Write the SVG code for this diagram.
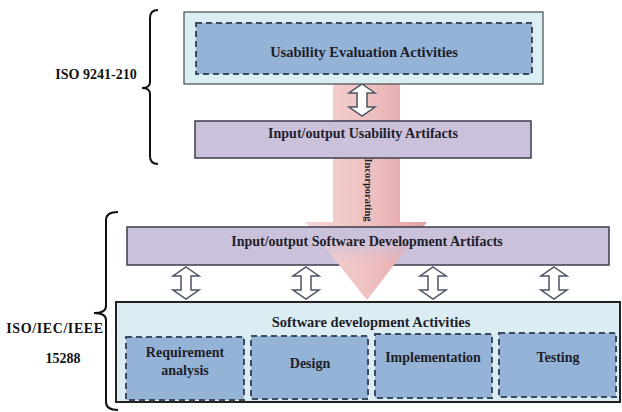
<svg xmlns="http://www.w3.org/2000/svg" width="622" height="412" viewBox="0 0 622 412">
  <style>
    text { font-weight: bold; }
    .lbl { font-size: 14px; fill: #1e1e2a; text-anchor: middle; }
    .side { font-size: 14px; fill: #111; text-anchor: middle; }
    .outer { fill: #dbeef4; stroke: #4a4a4a; stroke-width: 1.2; }
    .outer2 { fill: #dbecf3; stroke: #222; stroke-width: 2; }
    .act { fill: #95b3d7; stroke: #3b4c60; stroke-width: 2; stroke-dasharray: 6 4; }
    .art { fill: #ccc1da; stroke: #3d3d4d; stroke-width: 1.5; }
    .brace { fill: none; stroke: #111; stroke-width: 2; }
    .dbl { fill: #fff; stroke: #4b5364; stroke-width: 1.5; stroke-linejoin: miter; }
  </style>
  <defs>
    <linearGradient id="pink" x1="0" y1="0" x2="1" y2="0">
      <stop offset="0" stop-color="#f6d6d6"/>
      <stop offset="0.55" stop-color="#efbfc0"/>
      <stop offset="1" stop-color="#e09fa2"/>
    </linearGradient>
    <linearGradient id="fadeIn" gradientUnits="userSpaceOnUse" x1="0" y1="238" x2="0" y2="262">
      <stop offset="0" stop-color="#000"/>
      <stop offset="1" stop-color="#fff"/>
    </linearGradient>
    <mask id="headMask" maskUnits="userSpaceOnUse" x="0" y="0" width="622" height="412">
      <rect x="0" y="227" width="622" height="40" fill="url(#fadeIn)"/>
    </mask>
    <!-- two-headed block arrow, 26 x 32, centred on x = 0 -->
    <path id="dblArrow" class="dbl" d="M0,0 L13,9 L5,9 L5,23 L13,23 L0,32 L-13,23 L-5,23 L-5,9 L-13,9 Z"/>
    <path id="bigArrow" d="M333,84 L400,84 L400,222 L427,222 L367,300 L305,222 L333,222 Z" fill="url(#pink)"/>
  </defs>

  <g font-family="Liberation Serif, serif">
  <!-- standard braces and labels -->
  <g id="iso9241">
    <path class="brace" d="M158,10 Q150,10 150,18 L150,82 Q150,88 142,88 Q150,88 150,94 L150,156 Q150,164 158,164"/>
    <text class="side" x="96" y="79" font-size="14.5">ISO 9241-210</text>
  </g>
  <g id="iso15288">
    <path class="brace" d="M118,212 Q106,212 106,220 L106,306 Q106,313 94,313 Q106,313 106,320 L106,402 Q106,410 118,410"/>
    <text class="side" x="55" y="333" letter-spacing="0.6">ISO/IEC/IEEE</text>
    <text class="side" x="63" y="363">15288</text>
  </g>

  <!-- connectors: the incorporating flow and the exchange arrows -->
  <g id="connectors">
    <use href="#bigArrow"/>
    <use href="#dblArrow" x="362" y="84"/>
    <text class="lbl" style="font-size:10.5px" transform="rotate(90 369 190)" x="369" y="194">Incorporating</text>
  </g>

  <g id="usabilityActivities">
    <rect class="outer" x="184" y="12" width="359" height="72"/>
    <rect class="act" x="196" y="23" width="336" height="51"/>
    <text class="lbl" x="364" y="57" style="font-size:14.5px">Usability Evaluation Activities</text>
  </g>

  <g id="usabilityArtifacts">
    <rect class="art" x="195" y="121" width="336" height="37"/>
    <text class="lbl" x="363" y="138">Input/output Usability Artifacts</text>
  </g>

  <g id="devArtifacts">
    <rect class="art" x="127" y="227" width="482" height="38"/>
    <use href="#bigArrow" mask="url(#headMask)"/>
    <text class="lbl" x="367" y="246">Input/output Software Development Artifacts</text>
  </g>

  <g id="exchange">
    <use href="#dblArrow" x="186" y="267"/>
    <use href="#dblArrow" x="306" y="267"/>
    <use href="#dblArrow" x="433" y="267"/>
    <use href="#dblArrow" x="554" y="267"/>
  </g>

  <g id="devActivities">
    <rect class="outer2" x="116" y="302" width="504" height="100"/>
    <text class="lbl" x="371" y="327" style="font-size:14.5px">Software development Activities</text>
  </g>
  <g id="requirement">
    <rect class="act" x="126" y="337" width="118" height="63"/>
    <text class="lbl" x="185" y="357">Requirement</text>
    <text class="lbl" x="185" y="375">analysis</text>
  </g>
  <g id="design">
    <rect class="act" x="251" y="336" width="117" height="63"/>
    <text class="lbl" x="310" y="368">Design</text>
  </g>
  <g id="implementation">
    <rect class="act" x="375" y="334" width="117" height="64"/>
    <text class="lbl" x="433" y="362">Implementation</text>
  </g>
  <g id="testing">
    <rect class="act" x="499" y="333" width="117" height="64"/>
    <text class="lbl" x="558" y="362">Testing</text>
  </g>
  </g>
</svg>
